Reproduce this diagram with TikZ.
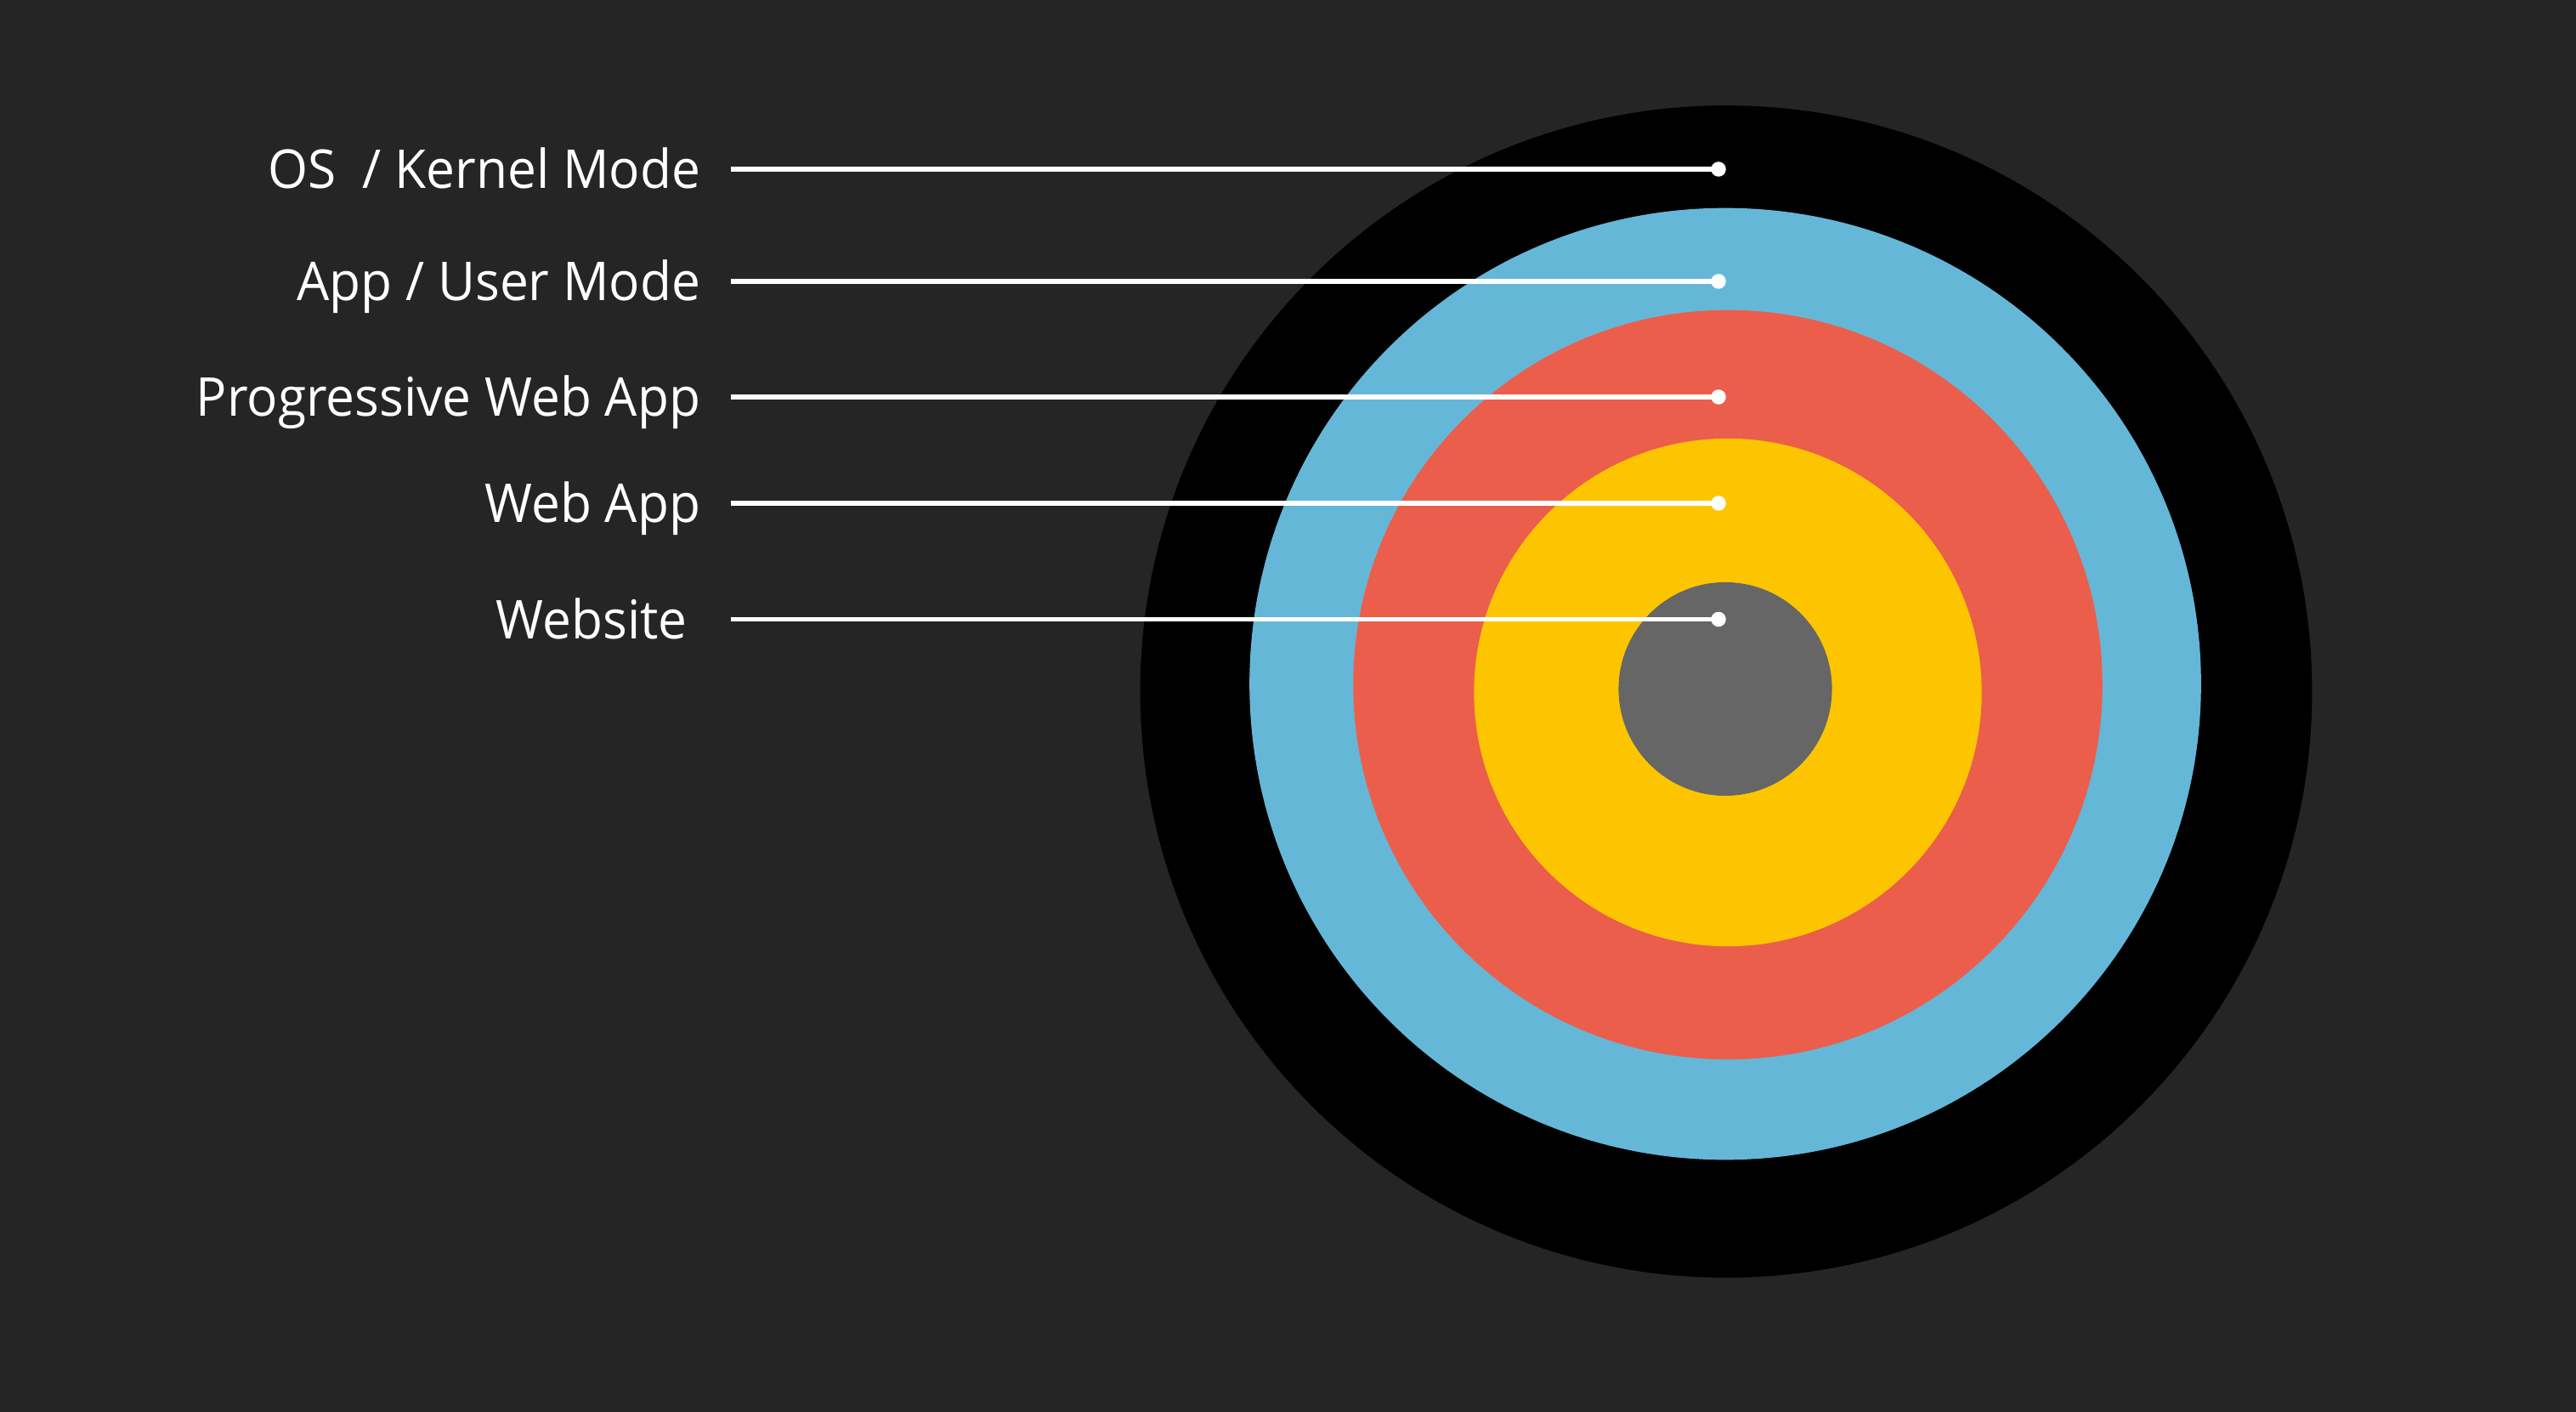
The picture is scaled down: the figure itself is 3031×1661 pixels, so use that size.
\documentclass[tikz,border=0pt]{standalone}
\usepackage{fontspec}
\setmainfont{Open Sans}[FakeStretch=0.96]
\usetikzlibrary{positioning}

\definecolor{bg}{HTML}{252525}
\definecolor{ringblue}{HTML}{65B7D8}
\definecolor{ringred}{HTML}{EB5E4B}
\definecolor{ringyellow}{HTML}{FDC500}
\definecolor{ringgrey}{HTML}{666666}

\begin{document}
\begin{tikzpicture}[x=0.01cm, y=-0.01cm,
    lbl/.style={text=white, anchor=base east, inner xsep=0.35cm, inner ysep=0pt,
                font=\fontsize{17.9pt}{20pt}\selectfont},
    dot/.style={circle, fill=white, inner sep=0pt, minimum size=0.175cm},
    leader/.style={draw=white, line width=1.5pt}]
    % background
    \fill[bg] (0,0) rectangle (3031,1661);
    \useasboundingbox (0,0) rectangle (3031,1661);
    % target rings
    \fill[black]      (2031,813.5) circle (6.89cm);
    \fill[ringblue]   (2030,804.5) circle (5.595cm);
    \fill[ringred]    (2033,805.5) circle (4.405cm);
    \fill[ringyellow] (2033,814.5) circle (2.985cm);
    \fill[ringgrey]   (2030,810.5) circle (1.255cm);
    % labels
    \node[lbl] (os)   at (860,221.5) {OS\ \ / Kernel Mode};
    \node[lbl] (app)  at (860,353.5) {App / User Mode};
    \node[lbl] (pwa)  at (860,489.5) {Progressive Web App};
    \node[lbl] (web)  at (860,614.5) {Web App};
    \node[lbl] (site) at (860,751)   {Website\ \mbox{}};
    % dots
    \node[dot] (d_os)   at (2022,199)   {};
    \node[dot] (d_app)  at (2022,331)   {};
    \node[dot] (d_pwa)  at (2022,467)   {};
    \node[dot] (d_web)  at (2022,592)   {};
    \node[dot] (d_site) at (2022,728.5) {};
    \path[leader]
        (os.east |- d_os) edge (d_os.center)
        (app.east |- d_app) edge (d_app.center)
        (pwa.east |- d_pwa) edge (d_pwa.center)
        (web.east |- d_web) edge (d_web.center)
        (site.east |- d_site) edge (d_site.center);
\end{tikzpicture}
\end{document}
